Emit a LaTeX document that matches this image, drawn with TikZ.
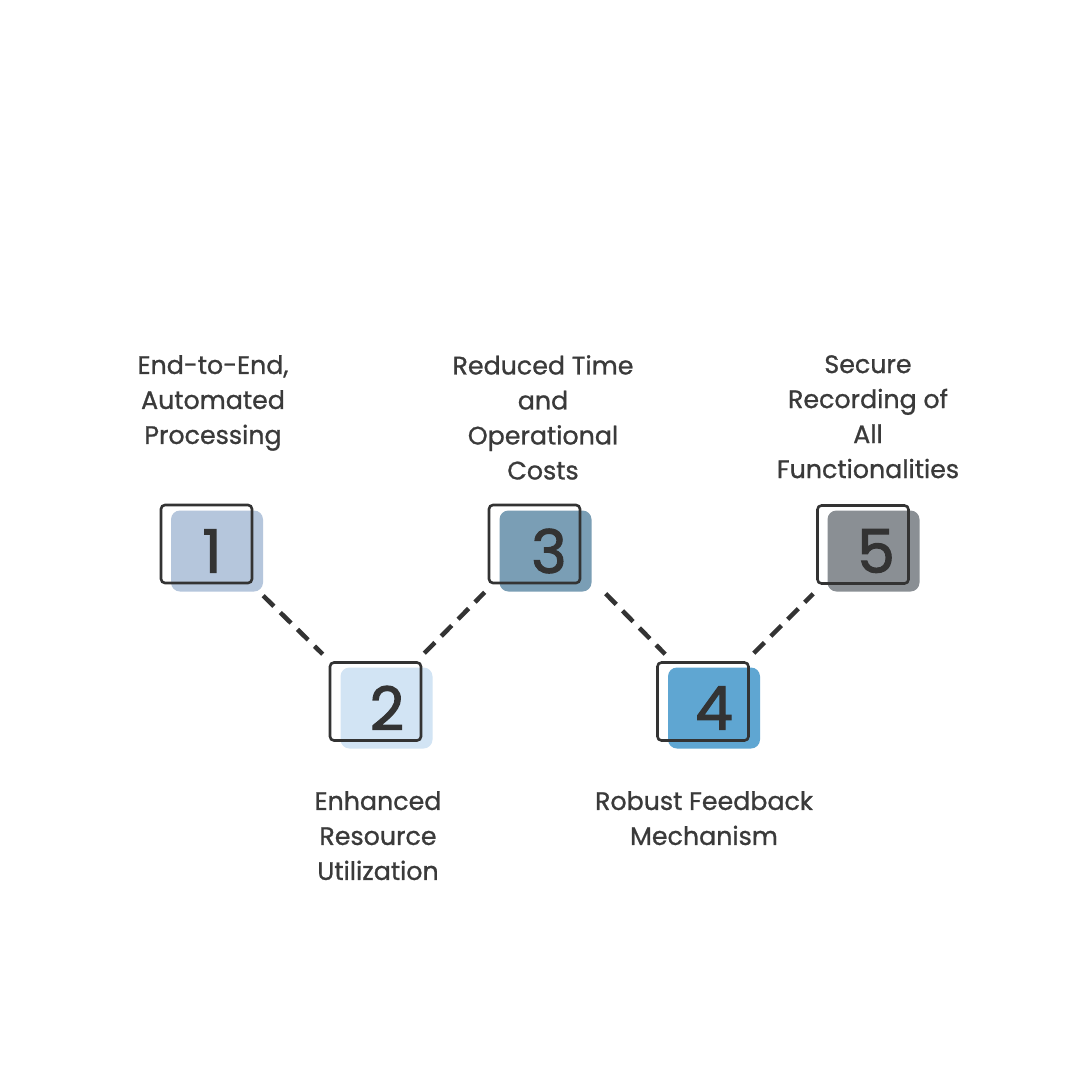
\documentclass[tikz,border=0pt]{standalone}
\usepackage{fontspec}
\setmainfont{Poppins}
\newfontfamily\lblfont[FakeBold=0.9]{Poppins}
\newfontfamily\digfont[FakeBold=1.8]{Poppins}
\usetikzlibrary{calc}
\definecolor{txt}{HTML}{3A3A3A}
\definecolor{edge}{HTML}{333333}
\definecolor{fa}{HTML}{B5C6DC}
\definecolor{fb}{HTML}{D2E4F4}
\definecolor{fc}{HTML}{7A9EB5}
\definecolor{fd}{HTML}{5FA6D2}
\definecolor{fe}{HTML}{8A8F94}
\begin{document}
\begin{tikzpicture}[x=1pt,y=-1pt,
  fillbox/.style={rectangle,rounded corners=9pt,minimum width=92pt,minimum height=81pt,inner sep=0pt,draw=none},
  outbox/.style={rectangle,rounded corners=4pt,minimum width=91pt,minimum height=78pt,inner sep=0pt,draw=edge,line width=2.6pt},
  digit/.style={text=edge,font=\digfont\fontsize{60}{60}\selectfont,inner sep=0pt},
  label/.style={text=txt,font=\lblfont\fontsize{25.3}{35}\selectfont,align=center,inner sep=0pt,anchor=north},
  link/.style={draw=edge,line width=4.5pt,dash pattern=on 15pt off 9pt}]
\fill[white] (0,0) rectangle (1080,1080);
% boxes
\node[fillbox,fill=fa] (f1) at (217,551) {};
\node[outbox] (o1) at (206.5,544) {};
\node[digit] (d1) at (212,551) {1};
\node[fillbox,fill=fb] (f2) at (386.5,708) {};
\node[outbox] (o2) at (375.5,701.5) {};
\node[digit] (d2) at (387,708) {2};
\node[fillbox,fill=fc] (f3) at (545.5,551) {};
\node[outbox] (o3) at (534.5,544) {};
\node[digit] (d3) at (549,551) {3};
\node[fillbox,fill=fd] (f4) at (714,708) {};
\node[outbox] (o4) at (703,701.5) {};
\node[digit] (d4) at (714,708) {4};
\node[fillbox,fill=fe] (f5) at (873.5,551) {};
\node[outbox] (o5) at (863,544.5) {};
\node[digit] (d5) at (876,551) {5};
% connectors
\draw[link] ($(f1.south east)+(0,4)$) -- ($(o2.north west)+(-6,-7)$);
\draw[link] ($(o2.north east)+(2,-8)$) -- ($(o3.south west)+(-3,8)$);
\draw[link] ($(f3.south east)+(14,2)$) -- ($(o4.north west)+(9,-7)$);
\draw[link] ($(o4.north east)+(4,-8)$) -- ($(o5.south west)+(-3,9)$);
% labels
\node[label] (t1) at (213,355) {End-to-End,\\Automated\\Processing};
\node[label] (t2) at (378,791) {Enhanced\\Resource\\Utilization};
\node[label] (t3) at (543,355) {Reduced Time\\and\\Operational\\Costs};
\node[label] (t4) at (704,791) {Robust Feedback\\Mechanism};
\node[label] (t5) at (868,355) {Secure\\Recording of\\All\\Functionalities};
\end{tikzpicture}
\end{document}
